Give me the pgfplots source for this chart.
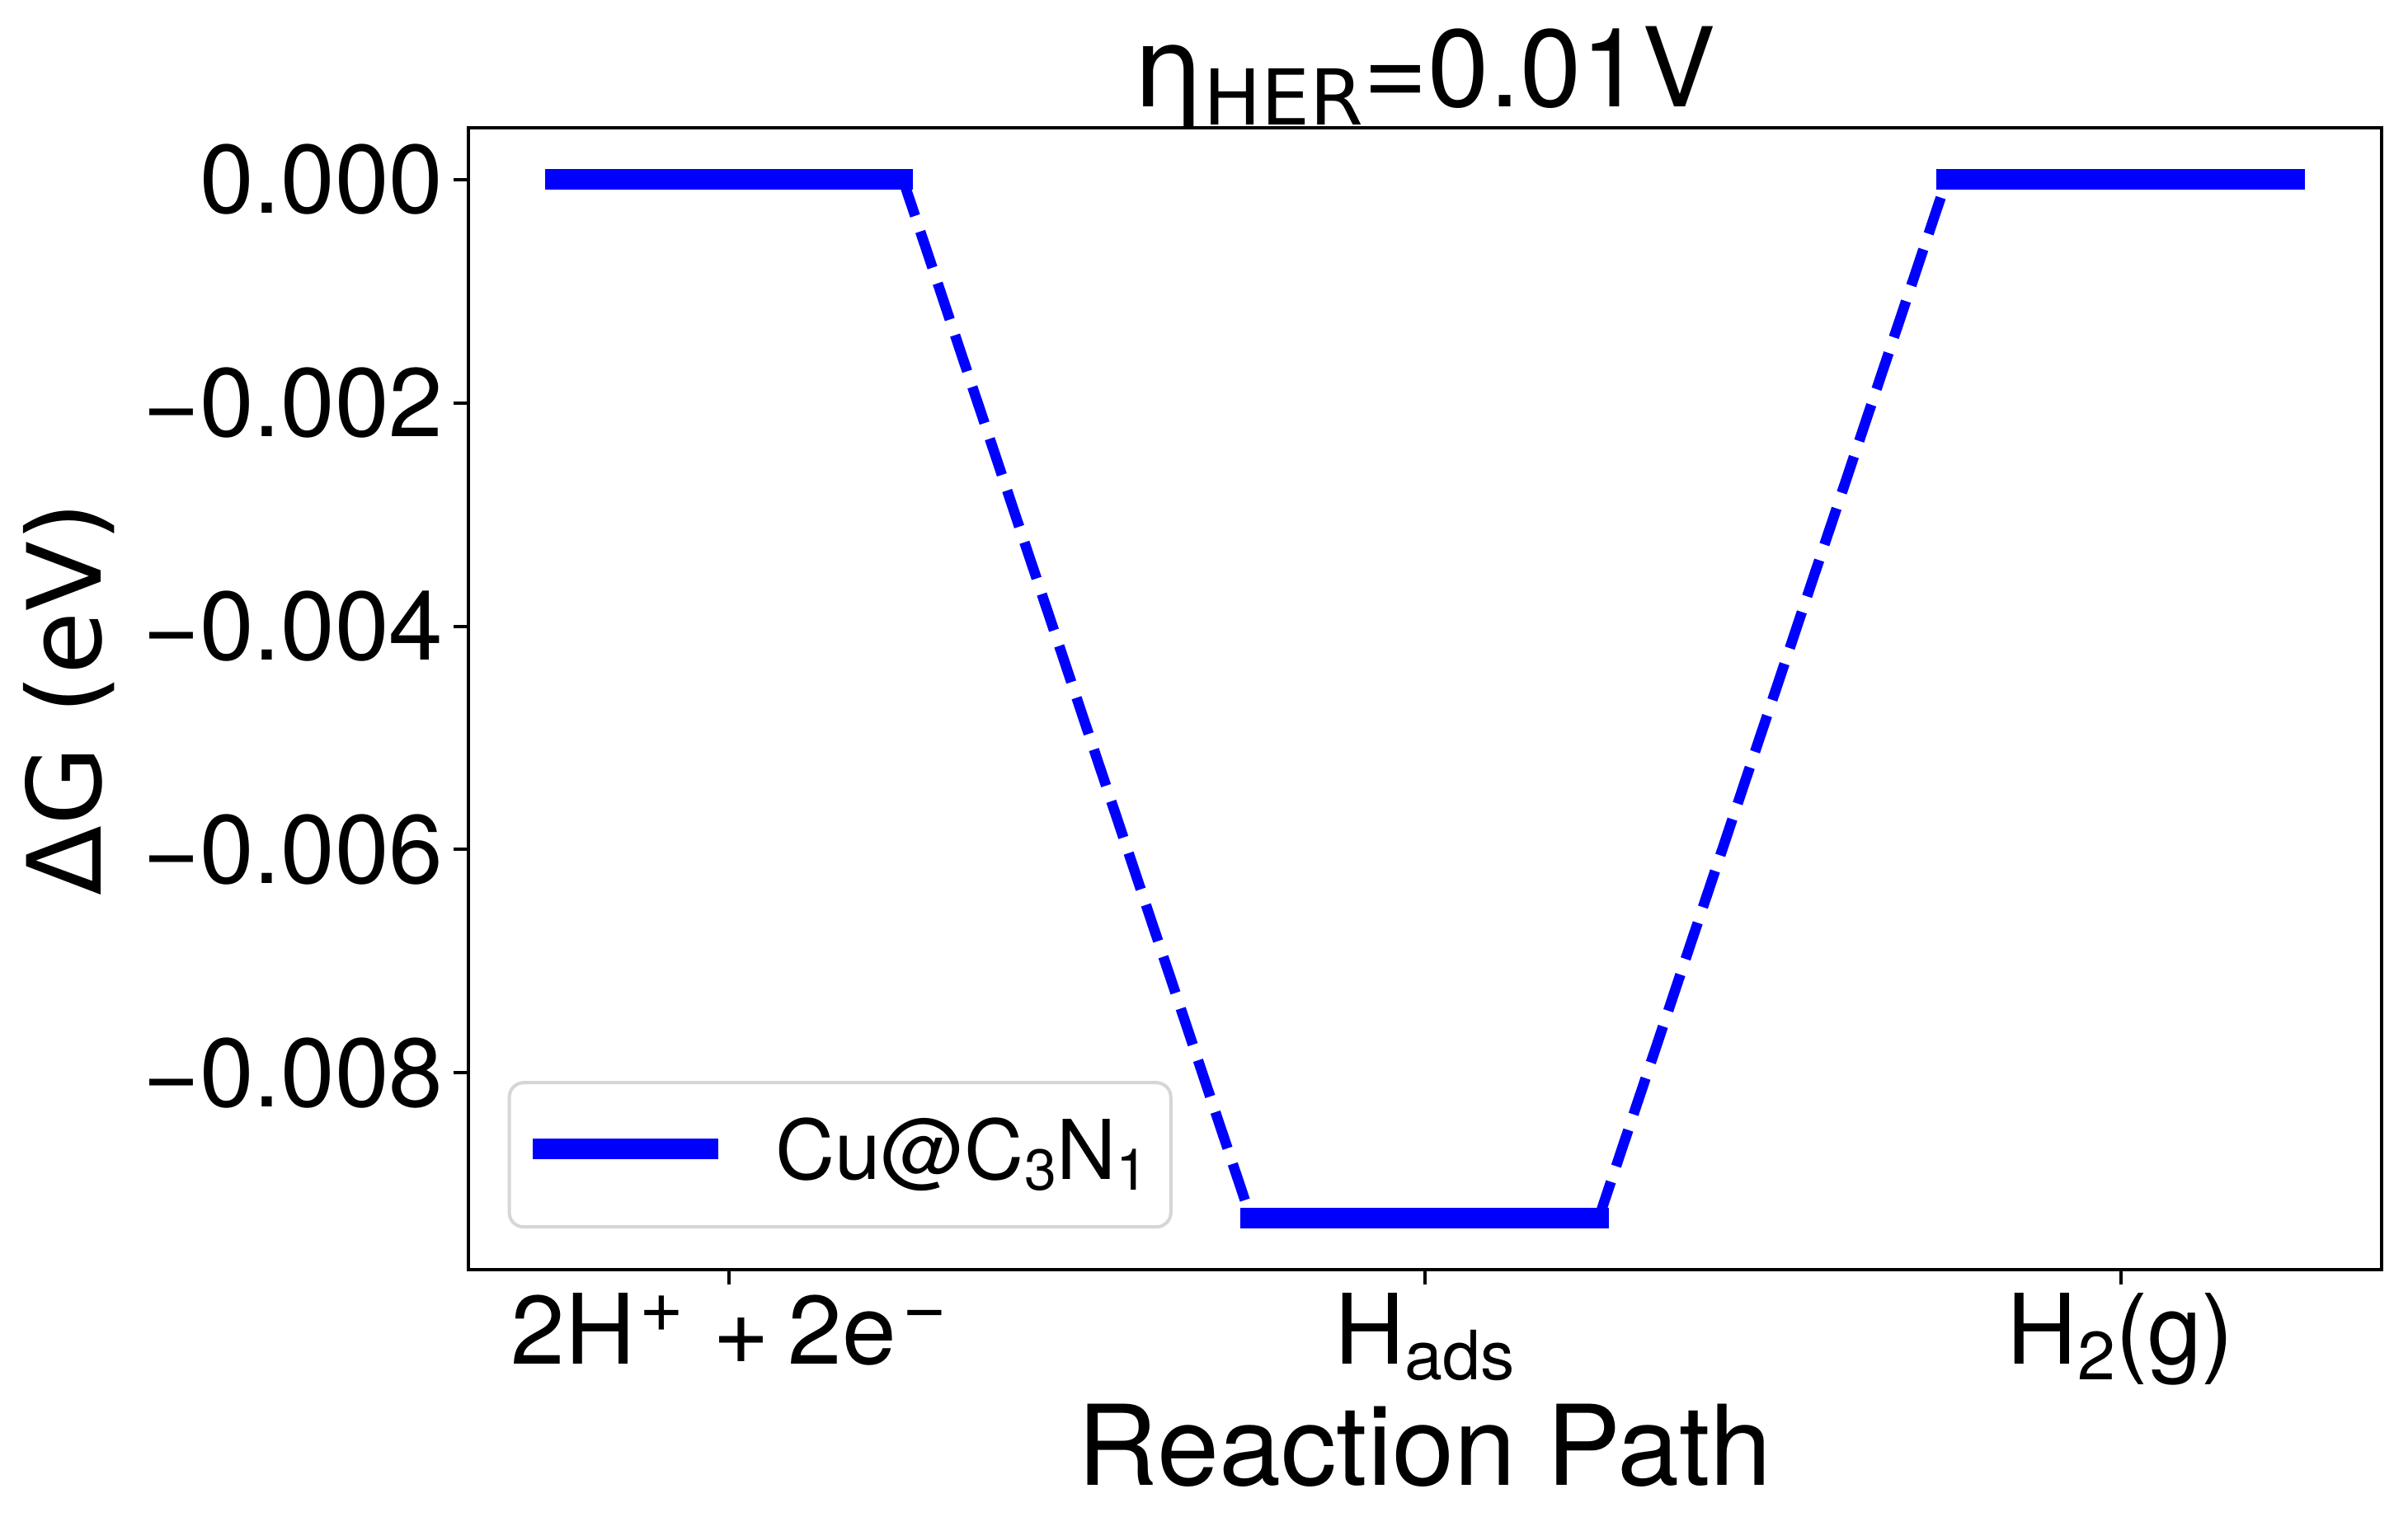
\documentclass[border=0pt]{standalone}
\usepackage{fontspec}
\setmainfont{TeX Gyre Heros}
\newfontfamily\dejavu{DejaVu Sans}
\usepackage{graphicx}
\usepackage{pgfplots}
\pgfplotsset{compat=1.18}
\newcommand{\sbs}[2][0.16em]{\raisebox{-#1}{\scalebox{0.7}{#2}}}
\newcommand{\sps}[2][0.33em]{\raisebox{#1}{\scalebox{0.78}{#2}}}
\definecolor{legedge}{RGB}{214,214,214}
\begin{document}
\begin{tikzpicture}
\begin{axis}[
  name=ax,
  scale only axis, width=464pt, height=277pt,
  xmin=-0.375, xmax=2.375, ymin=-0.009765, ymax=0.000465,
  scaled y ticks=false,
  axis line style={line width=0.8pt},
  every tick/.style={black, line width=0.8pt},
  major tick length=3.5pt, tick align=outside,
  xtick pos=left, ytick pos=left,
  xtick={0,1,2},
  xticklabels={{2H\hspace{1pt}\sps{+}\hspace{7pt}+\hspace{4.5pt}2e\hspace{1.5pt}\sps{−}},{H\sbs{ads}},{H\sbs{2}(g)}},
  ytick={-0.008,-0.006,-0.004,-0.002,0},
  yticklabels={{−0.008},{−0.006},{−0.004},{−0.002},{0.000}},
  ticklabel style={font=\fontsize{23.6}{28}\selectfont},
  yticklabel style={anchor=east, inner sep=0pt},
  yticklabel shift=2.3pt,
  xticklabel style={anchor=base, inner sep=0pt},
  xticklabel shift=19.3pt,
  every axis title shift=0pt,
  title={{\dejavu η\sbs[0.17em]{HER}}=0.01V},
  title style={at={(axis description cs:0.5,1)}, anchor=base, yshift=5.2pt, inner sep=0pt, font=\fontsize{26.7}{30}\selectfont},
  xlabel={Reaction Path},
  xlabel style={at={(axis description cs:0.5,0)}, anchor=base, yshift=-52.2pt, inner sep=0pt, font=\fontsize{27}{32}\selectfont},
  ylabel={ΔG (eV)},
  ylabel style={at={([xshift=-89pt]axis description cs:0,0.5)}, anchor=base, inner sep=0pt, font=\dejavu\fontsize{24.8}{29}\selectfont},
  legend style={at={(axis description cs:0,0)}, anchor=south west, xshift=9.6pt, yshift=10pt,
    draw=legedge, line width=0.8pt, rounded corners=3.5pt, fill=white,
    inner xsep=0pt, inner ysep=0pt, column sep=0pt,
    cells={anchor=base west}, nodes={inner sep=0pt, text depth=0pt},
    font=\fontsize{20}{24}\selectfont},
  legend image code/.code={
    \path[draw=none, fill=none] (-8.1pt,-11.6pt) rectangle (56.5pt,23.4pt);
    \draw[#1, sharp corners, line width=5pt, line cap=rect] (0pt,7.3pt) -- (40pt,7.3pt);
  },
]
\addplot[blue, line width=2.5pt, dash pattern=on 9.25pt off 4pt, forget plot] coordinates {(0.25,0) (0.75,-0.0093)};
\addplot[blue, line width=2.5pt, dash pattern=on 9.25pt off 4pt, forget plot] coordinates {(1.25,-0.0093) (1.75,0)};
\addplot[blue, line width=5pt, line cap=rect] coordinates {(-0.25,0) (0.25,0)};
\addlegendentry{Cu@C\sbs[0.13em]{3}N\sbs[0.13em]{1}\hspace*{5.5pt}\mbox{}}
\addplot[blue, line width=5pt, line cap=rect, forget plot] coordinates {(0.75,-0.0093) (1.25,-0.0093)};
\addplot[blue, line width=5pt, line cap=rect, forget plot] coordinates {(1.75,0) (2.25,0)};
\end{axis}
\pgfresetboundingbox
\path ([shift={(-113.5pt,-63.3pt)}]ax.south west) rectangle ([shift={(6.4pt,31pt)}]ax.north east);
\end{tikzpicture}
\end{document}
